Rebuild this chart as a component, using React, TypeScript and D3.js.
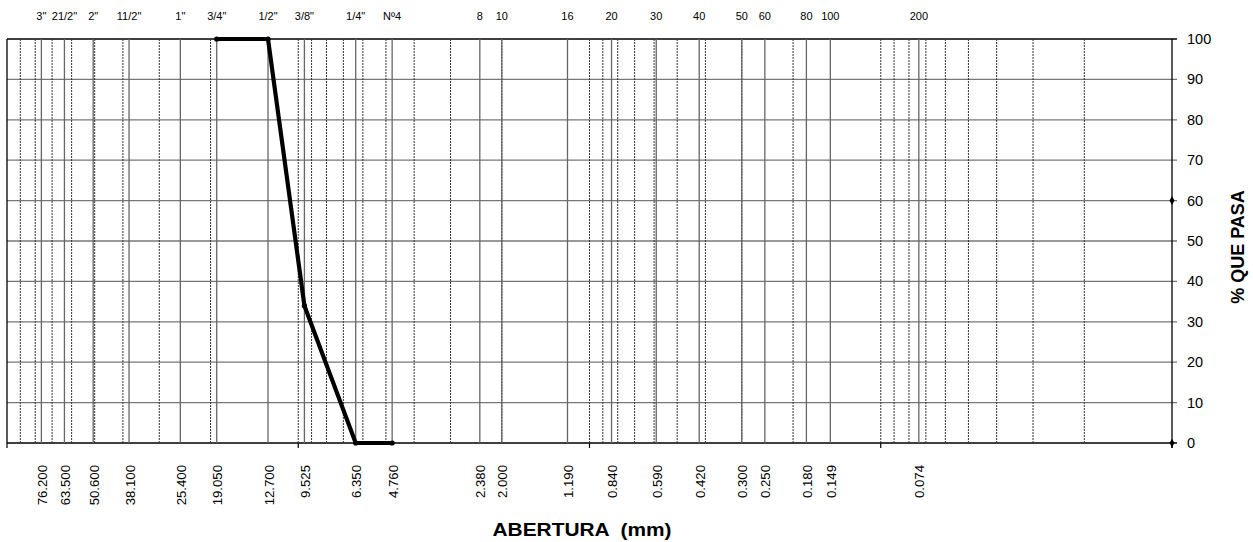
import React from 'react';
import * as d3 from 'd3';

// aberturas de tamices (mm) y nombres
const sieveSizes = [76.2, 63.5, 50.6, 38.1, 25.4, 19.05, 12.7, 9.525, 6.35, 4.76, 2.38, 2.0, 1.19, 0.84, 0.59, 0.42, 0.3, 0.25, 0.18, 0.149, 0.074];
const sieveNames = ['3"', '21/2"', '2"', '11/2"', '1"', '3/4"', '1/2"', '3/8"', '1/4"', 'Nº4', '8', '10', '16', '20', '30', '40', '50', '60', '80', '100', '200'];
const sizeLabels = ['76.200', '63.500', '50.600', '38.100', '25.400', '19.050', '12.700', '9.525', '6.350', '4.760', '2.380', '2.000', '1.190', '0.840', '0.590', '0.420', '0.300', '0.250', '0.180', '0.149', '0.074'];

// curva granulometrica
const curveOpening = [19.05, 12.7, 9.525, 6.35, 4.76];
const curvePassing = [100, 100, 34, 0, 0];

// marcadores sobre el eje derecho
const axisMarks = [60, 0];

const W = 1253;
const H = 542;
const left = 7;
const right = 1172;
const top = 39;
const bottom = 443;

export default function App() {
  const x = d3.scaleLog().domain([100, 0.01]).range([left, right]);
  const y = d3.scaleLinear().domain([0, 100]).range([bottom, top]);

  // lineas menores del eje logaritmico (1..9 x 10^k)
  const minor: number[] = [];
  [0.01, 0.1, 1, 10].forEach(p => {
    for (let m = 1; m <= 9; m++) {
      const v = +(m * p).toPrecision(3);
      if (v > 0.01 && v < 100) minor.push(v);
    }
  });
  const decades = [100, 10, 1, 0.1, 0.01];
  const yTicks = y.ticks(10);

  const pts = curveOpening.map((d, i) => [x(d), y(curvePassing[i])] as [number, number]);
  const line = d3.line();

  const font = 'Arial, "Liberation Sans", sans-serif';

  return (
    <svg width={W} height={H} style={{ position: 'absolute', left: 0, top: 0, background: '#fff' }} fontFamily={font}>
      <rect width={W} height={H} fill="#fff" />

      {/* horizontal gridlines */}
      {yTicks.map(t => (
        <line key={'h' + t} x1={left} x2={right + 5} y1={y(t)} y2={y(t)}
          stroke={t === 0 || t === 100 ? '#000' : '#777'} strokeWidth={1.3} />
      ))}

      {/* minor log gridlines */}
      {minor.map(v => (
        <line key={'m' + v} x1={x(v)} x2={x(v)} y1={top} y2={bottom}
          stroke="#333" strokeWidth={1} strokeDasharray="2,1" />
      ))}

      {/* sieve lines */}
      {sieveSizes.map(s => (
        <line key={'s' + s} x1={x(s)} x2={x(s)} y1={top} y2={bottom}
          stroke="#666" strokeWidth={1.3} />
      ))}

      {/* borders */}
      <line x1={left} x2={left} y1={top} y2={bottom} stroke="#000" strokeWidth={1.3} />
      <line x1={right} x2={right} y1={top} y2={bottom + 5} stroke="#000" strokeWidth={1.3} />
      {decades.map(d => (
        <line key={'d' + d} x1={x(d)} x2={x(d)} y1={bottom} y2={bottom + 5} stroke="#000" strokeWidth={1.2} />
      ))}

      {/* right axis labels */}
      {yTicks.map(t => (
        <text key={'yl' + t} x={right + 15} y={y(t)} dy="0.35em" fontSize={14.5} fill="#000">{t}</text>
      ))}

      {/* top sieve names */}
      {sieveNames.map((n, i) => (
        <text key={'n' + i} x={x(sieveSizes[i])} y={20} fontSize={11} textAnchor="middle" fill="#000">{n}</text>
      ))}

      {/* bottom size labels */}
      {sizeLabels.map((l, i) => (
        <text key={'l' + i} transform={`translate(${x(sieveSizes[i]) + 1},465) rotate(-90)`}
          dy="0.35em" fontSize={13.2} textAnchor="end" fill="#000">{l}</text>
      ))}

      {/* curve */}
      <path d={line(pts) || ''} fill="none" stroke="#000" strokeWidth={4.2} strokeLinejoin="miter" />
      {pts.map((p, i) => (
        <circle key={'p' + i} cx={p[0]} cy={p[1]} r={2.6} fill="#000" />
      ))}

      {/* markers on right axis */}
      {axisMarks.map(v => (
        <path key={'a' + v} d={d3.symbol(d3.symbolDiamond, 22)() || ''}
          transform={`translate(${right},${y(v)})`} fill="#000" />
      ))}

      {/* axis titles */}
      <text x={582} y={536} fontSize={18} fontWeight="bold" textAnchor="middle"
        textLength={179} lengthAdjust="spacingAndGlyphs" style={{ whiteSpace: 'pre' }}>ABERTURA  (mm)</text>
      <g transform="translate(1244,247) rotate(-90)">
        <text x={0} y={0} fontSize={18} fontWeight="bold" textAnchor="middle">% QUE PASA</text>
      </g>
    </svg>
  );
}
